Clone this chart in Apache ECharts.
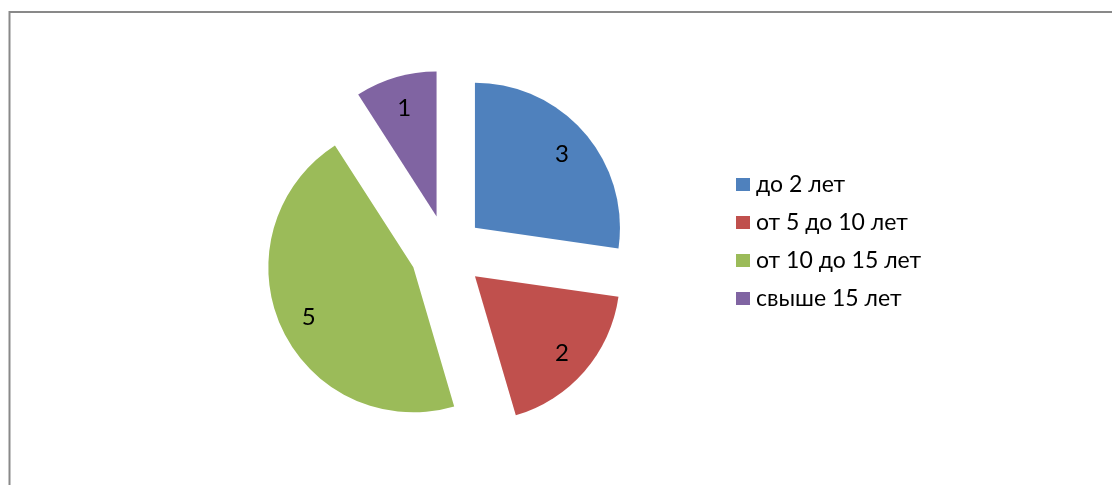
<!DOCTYPE html>
<html>
<head>
<meta charset="utf-8">
<script src="https://cdn.jsdelivr.net/npm/echarts@6/dist/echarts.min.js"></script>
<style>
  html, body { margin: 0; padding: 0; background: #fff; }
  #main { width: 1112px; height: 485px; }
</style>
</head>
<body>
<div id="main"></div>
<script>
// данные диаграммы
var categories = ['до 2 лет', 'от 5 до 10 лет', 'от 10 до 15 лет', 'свыше 15 лет'];
var values = [3, 2, 5, 1];
var colors = ['#4F81BD', '#C0504D', '#9BBB59', '#8064A2'];

var font = 'Lato, Open Sans, sans-serif';

var pieData = categories.map(function (name, i) {
    return { name: name, value: values[i], selected: true, itemStyle: { color: colors[i] } };
});
// прозрачный слой только для подписей (чтобы они стояли ближе к краю)
var labelData = categories.map(function (name, i) {
    return { name: name, value: values[i], selected: true };
});

var myChart = echarts.init(document.getElementById('main'));
myChart.setOption({
    animation: false,
    graphic: [{
        type: 'rect',
        shape: { x: 9.5, y: 12, width: 1300, height: 800 },
        style: { fill: 'none', stroke: '#898989', lineWidth: 2 },
        silent: true
    }],
    legend: {
        orient: 'vertical',
        left: 731,
        top: 167,
        icon: 'rect',
        itemWidth: 14,
        itemHeight: 13,
        itemGap: 13,
        data: categories,
        textStyle: { fontFamily: font, fontSize: 23, color: '#000', lineHeight: 25, padding: [0, 0, 0, 1] }
    },
    series: [{
        type: 'pie',
        center: [447, 252],
        radius: [0, 145],
        startAngle: 90,
        selectedMode: 'multiple',
        selectedOffset: 37,
        label: { show: false },
        labelLine: { show: false },
        emphasis: { disabled: true },
        data: pieData
    }, {
        type: 'pie',
        center: [447, 254],
        radius: [79, 145],
        startAngle: 90,
        selectedMode: 'multiple',
        selectedOffset: 37,
        silent: true,
        itemStyle: { color: 'rgba(0,0,0,0)' },
        label: {
            show: true,
            position: 'inside',
            formatter: '{c}',
            color: '#000',
            fontFamily: font,
            fontSize: 24
        },
        labelLine: { show: false },
        emphasis: { disabled: true },
        data: labelData
    }]
});
</script>
</body>
</html>
